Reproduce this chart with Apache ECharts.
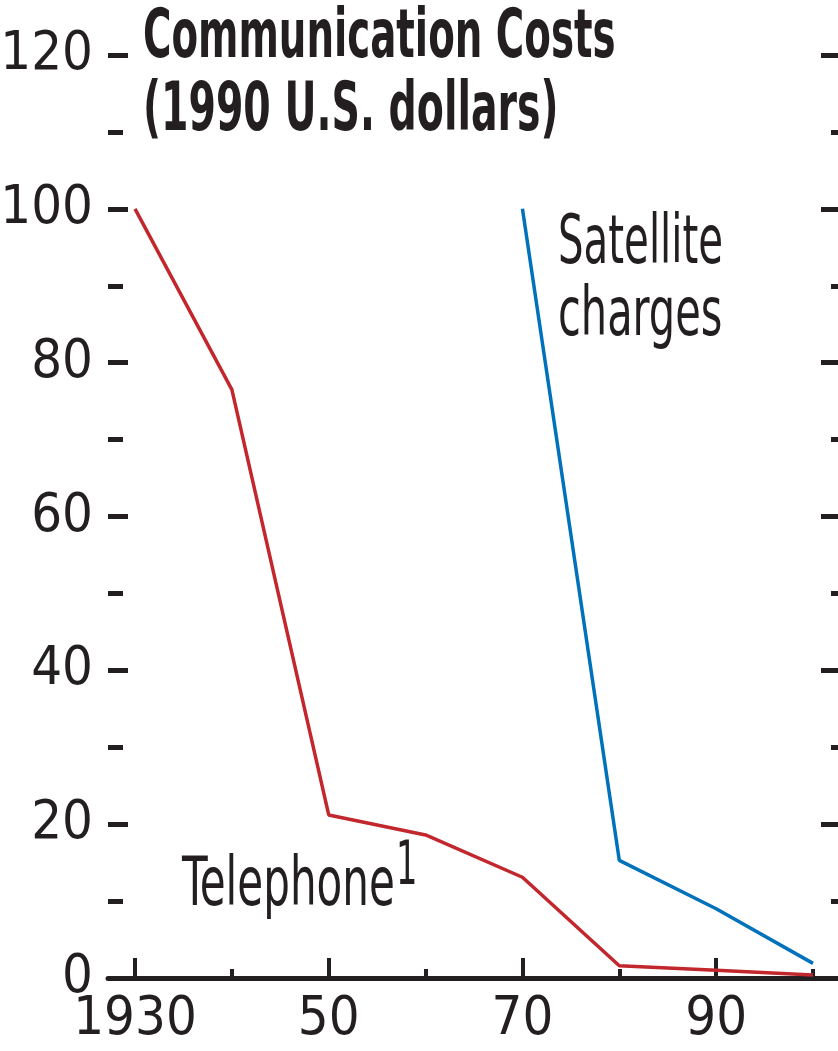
<!DOCTYPE html>
<html>
<head>
<meta charset="utf-8">
<script src="https://cdn.jsdelivr.net/npm/echarts@6/dist/echarts.min.js"></script>
<style>
html,body{margin:0;padding:0;background:#fff;}
#chart{width:838px;height:1051px;}
</style>
</head>
<body>
<div id="chart"></div>
<script>
// ---- data ----
const telephoneYears = [1930, 1940, 1950, 1960, 1970, 1980, 1990, 2000];
const telephoneCost  = [100, 76.5, 21.2, 18.6, 13.1, 1.6, 1.0, 0.4];
const satelliteYears = [1970, 1980, 1990, 2000];
const satelliteCost  = [100, 15.3, 9.0, 1.9];
const xMajorTicks = [1930, 1950, 1970, 1990];
const xMinorTicks = [1940, 1960, 1980, 2000];
const xTickLabels = ['1930', '50', '70', '90'];
const titleLines = ['Communication Costs', '(1990 U.S. dollars)'];
const satelliteLabel = ['Satellite', 'charges'];
const telephoneLabel = 'Telephone';
const telephoneNote = '1';

const FONT = '"Liberation Sans Narrow","Arial Narrow","DejaVu Sans Condensed","DejaVu Sans",sans-serif';
const INK = '#231f20';
const RED = '#c1272d';
const BLUE = '#0072bc';

const chart = echarts.init(document.getElementById('chart'), null, {renderer: 'canvas'});

function txt(x, y, text, size, weight, sx, sy) {
  return {
    type: 'text', x: x, y: y, scaleX: sx, scaleY: sy, z: 10,
    style: {
      text: text, fill: INK, align: 'left', verticalAlign: 'middle',
      font: (weight || 'normal') + ' ' + size + 'px ' + FONT
    }
  };
}

const yCommon = {
  type: 'value', min: 0, max: 120, interval: 20,
  axisLine: {show: false},
  splitLine: {show: false},
  minorSplitLine: {show: false}
};

const option = {
  animation: false,
  backgroundColor: '#fff',
  grid: {left: 108, top: 55, width: 733, height: 923, containLabel: false, outerBoundsMode: 'none'},
  xAxis: [{
    type: 'value', min: 1927.21, max: 2002.89,
    axisLine: {show: true, lineStyle: {color: INK, width: 5}},
    axisTick: {show: true, inside: true, length: 20, customValues: xMajorTicks,
               lineStyle: {color: INK, width: 4}},
    axisLabel: {show: true, customValues: xMajorTicks, margin: 15,
                fontFamily: FONT, fontSize: 54, color: INK,
                formatter: function (v) { return xTickLabels[xMajorTicks.indexOf(Math.round(v))] || ''; }},
    splitLine: {show: false}
  }, {
    type: 'value', min: 1927.21, max: 2002.89, position: 'bottom',
    axisLine: {show: false},
    axisTick: {show: true, inside: true, length: 9, customValues: xMinorTicks,
               lineStyle: {color: INK, width: 4}},
    axisLabel: {show: false},
    splitLine: {show: false}
  }],
  yAxis: [Object.assign({}, yCommon, {
    position: 'left',
    axisTick: {show: true, inside: true, length: 20, lineStyle: {color: INK, width: 5}},
    minorTick: {show: true, splitNumber: 2, length: 15, lineStyle: {color: INK, width: 5}},
    axisLabel: {show: true, margin: 15, fontFamily: FONT, fontSize: 54, color: INK}
  }), Object.assign({}, yCommon, {
    position: 'right',
    axisTick: {show: true, inside: true, length: 20, lineStyle: {color: INK, width: 5}},
    minorTick: {show: true, splitNumber: 2, length: 10, lineStyle: {color: INK, width: 5}},
    axisLabel: {show: false}
  })],
  series: [{
    type: 'line', name: 'Telephone',
    data: telephoneYears.map(function (y, i) { return [y, telephoneCost[i]]; }),
    showSymbol: false, symbol: 'none',
    lineStyle: {color: RED, width: 3.5}, z: 3
  }, {
    type: 'line', name: 'Satellite charges',
    data: satelliteYears.map(function (y, i) { return [y, satelliteCost[i]]; }),
    showSymbol: false, symbol: 'none',
    lineStyle: {color: BLUE, width: 3.5}, z: 4
  }],
  graphic: [
    txt(143, 39, titleLines[0], 55, 'bold', 0.783, 1.23),
    txt(143, 112, titleLines[1], 55, 'bold', 0.797, 1.23),
    txt(558, 245, satelliteLabel[0], 56, 'normal', 0.80, 1.22),
    txt(558, 317, satelliteLabel[1], 56, 'normal', 0.824, 1.22),
    txt(182, 887, telephoneLabel, 55, 'normal', 0.85, 1.23),
    txt(396, 868, telephoneNote, 50, 'normal', 0.75, 1.2)
  ]
};
chart.setOption(option);
</script>
</body>
</html>
